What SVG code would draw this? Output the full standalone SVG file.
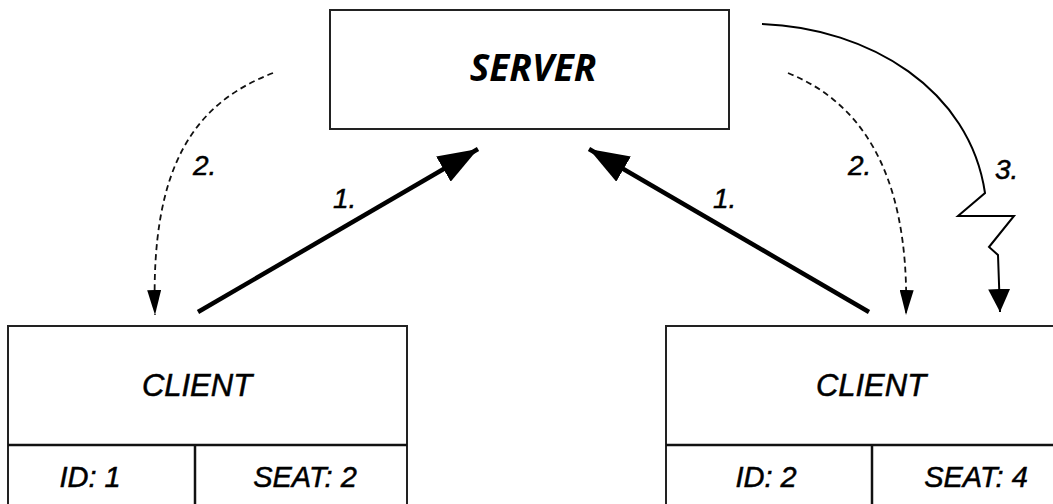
<svg xmlns="http://www.w3.org/2000/svg" width="1053" height="504" viewBox="0 0 1053 504">
<style>
.box{fill:#fff;stroke:#222;stroke-width:2}
.div{stroke:#111;stroke-width:2.5;fill:none}
.t{font-family:"Liberation Sans",Arial,sans-serif;font-style:italic;fill:#000;stroke:#000;stroke-width:0.5;text-anchor:middle}
.srv{font-family:"Open Sans",sans-serif;font-style:italic;font-weight:bold;font-size:37px;fill:#000;text-anchor:middle}
.lbl{font-family:"Liberation Sans",Arial,sans-serif;font-style:italic;font-size:28px;fill:#000;stroke:#000;stroke-width:0.5}
.thick{stroke:#000;stroke-width:4.5;fill:none}
.dash{stroke:#111;stroke-width:1.8;fill:none;stroke-dasharray:6 4}
.thin{stroke:#000;stroke-width:2;fill:none}
</style>
<defs>
<marker id="hBig" viewBox="0 0 10 10" refX="10" refY="5" markerWidth="40" markerHeight="29" markerUnits="userSpaceOnUse" orient="auto" preserveAspectRatio="none"><path d="M0,0 L10,5 L0,10 Z" fill="#000"/></marker>
<marker id="hDash" viewBox="0 0 10 10" refX="10" refY="5" markerWidth="25" markerHeight="14" markerUnits="userSpaceOnUse" orient="auto" preserveAspectRatio="none"><path d="M0,0 L10,5 L0,10 Z" fill="#000"/></marker>
<marker id="hSolid" viewBox="0 0 10 10" refX="10" refY="5" markerWidth="23" markerHeight="22" markerUnits="userSpaceOnUse" orient="auto" preserveAspectRatio="none"><path d="M0,0 L10,5 L0,10 Z" fill="#000"/></marker>
</defs>
<rect width="1053" height="504" fill="#fff"/>
<g id="server">
<rect class="box" x="330" y="10" width="399" height="119"/>
<text class="srv" x="533" y="81">SERVER</text>
</g>
<g id="client1">
<rect class="box" x="8" y="326" width="399" height="190"/>
<line class="div" x1="8" y1="445" x2="407" y2="445"/>
<line class="div" x1="195" y1="445" x2="195" y2="504"/>
<text class="t" x="197" y="396" font-size="31">CLIENT</text>
<text class="t" x="90" y="487" font-size="29">ID: 1</text>
<text class="t" x="305" y="487" font-size="29">SEAT: 2</text>
</g>
<g id="client2">
<rect class="box" x="666" y="326" width="410" height="190"/>
<line class="div" x1="666" y1="445" x2="1053" y2="445"/>
<line class="div" x1="872" y1="445" x2="872" y2="504"/>
<text class="t" x="871" y="396" font-size="31">CLIENT</text>
<text class="t" x="766" y="487" font-size="29">ID: 2</text>
<text class="t" x="976" y="487" font-size="29">SEAT: 4</text>
</g>
<g id="connectors">
<line class="thick" x1="198" y1="312" x2="478" y2="149" marker-end="url(#hBig)"/>
<line class="thick" x1="869" y1="312" x2="589" y2="149" marker-end="url(#hBig)"/>
<path class="dash" d="M273,73 C195,103 150,165 155,315" marker-end="url(#hDash)"/>
<path class="dash" d="M788,73 C855,100 910,165 906,315" marker-end="url(#hDash)"/>
<path class="thin" d="M762,24 C870,28 970,90 985,193 L958,216 L1014,216 L989,247 L998,255 L1000,312" marker-end="url(#hSolid)"/>
<text class="lbl" x="193" y="175">2.</text>
<text class="lbl" x="848" y="175">2.</text>
<text class="lbl" x="333" y="208">1.</text>
<text class="lbl" x="713" y="208">1.</text>
<text class="lbl" x="995" y="179">3.</text>
</g>
</svg>
